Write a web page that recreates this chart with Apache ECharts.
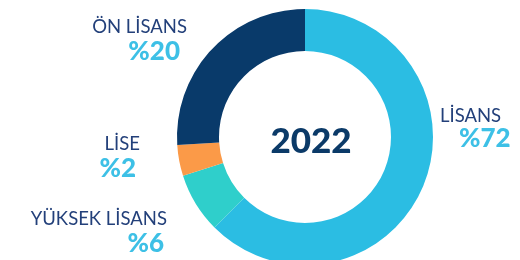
<!DOCTYPE html>
<html>
<head>
<meta charset="utf-8">
<script src="https://cdn.jsdelivr.net/npm/echarts@6/dist/echarts.min.js"></script>
<style>
  html, body { margin: 0; padding: 0; background: #fff; }
  #chart { width: 520px; height: 260px; }
</style>
</head>
<body>
<div id="chart"></div>
<script>
// data
var year = "2022";
var categories = ["LİSANS", "YÜKSEK LİSANS", "LİSE", "ÖN LİSANS"];
var sliceValues = [62.5, 7.6, 3.9, 26];
// percentages printed next to the ring
var shownPercents = [72, 6, 2, 20];
var colors = ["#2bbde3", "#2fcfcb", "#fb9a48", "#093a6a"];

(function () {
  var myChart = echarts.init(document.getElementById("chart"));

  // where each label block sits (x, name y, percent y, align)
  var labelPos = [
    { x: 440, y1: 117, y2: 139, align: "left", px: 459 },
    { x: 167, y1: 220, y2: 244, align: "right", px: 164 },
    { x: 140, y1: 145, y2: 169, align: "right", px: 136 },
    { x: 187, y1: 28, y2: 52, align: "right", px: 180 }
  ];

  var graphics = [];
  categories.forEach(function (name, i) {
    var p = labelPos[i];
    graphics.push({
      type: "text",
      left: p.align === "left" ? p.x : null,
      right: p.align === "right" ? 520 - p.x : null,
      top: p.y1 - 10,
      style: {
        text: name,
        fill: "#23407a",
        font: "18.5px Lato",
        verticalAlign: "top"
      }
    });
    graphics.push({
      type: "text",
      left: p.align === "left" ? p.px : null,
      right: p.align === "right" ? 520 - p.px : null,
      top: p.y2 - 13,
      style: {
        text: "%" + shownPercents[i],
        fill: "#3dc0e6",
        font: "900 26px Lato",
        verticalAlign: "top"
      }
    });
  });

  var option = {
    animation: false,
    color: colors,
    title: {
      text: year,
      left: 306,
      top: 137,
      textAlign: "center",
      textVerticalAlign: "middle",
      textStyle: {
        color: "#0b3a68",
        fontSize: 35,
        fontWeight: 900,
        fontFamily: "Lato"
      }
    },
    graphic: graphics,
    series: [
      {
        type: "pie",
        center: [305, 137],
        radius: [86, 128],
        startAngle: 90,
        clockwise: true,
        silent: true,
        label: { show: false },
        labelLine: { show: false },
        data: categories.map(function (c, i) {
          return { name: c, value: sliceValues[i] };
        })
      }
    ]
  };
  myChart.setOption(option);
  window.addEventListener("resize", function () {
    myChart.resize();
  });
})();
</script>
</body>
</html>
